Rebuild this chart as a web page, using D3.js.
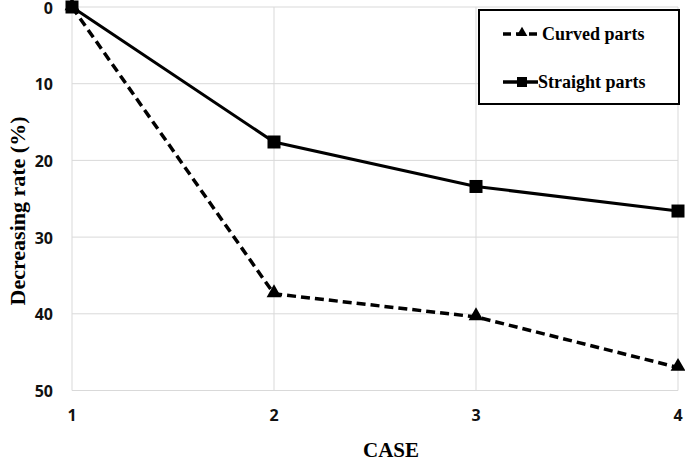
<!DOCTYPE html>
<html><head><meta charset="utf-8">
<script src="https://cdn.jsdelivr.net/npm/d3@7"></script>
<style>body{margin:0;background:#fff}</style>
</head><body>
<svg id="c" width="685" height="460"></svg>
<script>
const categories = [1, 2, 3, 4];
const curved = [0, 37.4, 40.4, 47.0];
const straight = [0, 17.6, 23.4, 26.6];
const yTicks = [0, 10, 20, 30, 40, 50];

const svg = d3.select("#c");
const m = {l: 72, r: 678, t: 7, b: 390.5};
const x = d3.scalePoint().domain(categories).range([m.l, m.r]);
const y = d3.scaleLinear().domain([0, 50]).range([m.t, m.b]);

// grid
svg.append("g").selectAll("line").data(yTicks).join("line")
  .attr("x1", m.l).attr("x2", m.r).attr("y1", d => y(d)).attr("y2", d => y(d))
  .attr("stroke", "#d9d9d9").attr("stroke-width", 1);
svg.append("g").selectAll("line").data(categories).join("line")
  .attr("x1", d => x(d)).attr("x2", d => x(d)).attr("y1", m.t).attr("y2", m.b)
  .attr("stroke", "#d9d9d9").attr("stroke-width", 1);

// y tick labels
svg.append("g").selectAll("text").data(yTicks).join("text")
  .attr("x", 53).attr("y", d => y(d) + 1).attr("dy", "0.35em")
  .attr("text-anchor", "end").attr("font-family", "Open Sans, Liberation Sans, sans-serif")
  .attr("font-weight", "bold").attr("font-size", 16).attr("fill", "#111")
  .text(d => d);
// x tick labels
svg.append("g").selectAll("text").data(categories).join("text")
  .attr("x", d => x(d)).attr("y", 415).attr("dy", "0.35em")
  .attr("text-anchor", "middle").attr("font-family", "Open Sans, Liberation Sans, sans-serif")
  .attr("font-weight", "bold").attr("font-size", 16).attr("fill", "#111")
  .text(d => d);

// axis titles
svg.append("text").attr("transform", "translate(17,211) rotate(-90)")
  .attr("text-anchor", "middle").attr("dy", "0.35em")
  .attr("font-family", "Liberation Serif, Times New Roman, serif").attr("font-weight", "bold")
  .attr("font-size", 22).text("Decreasing rate (%)");
svg.append("text").attr("x", 391).attr("y", 457).attr("text-anchor", "middle")
  .attr("font-family", "Liberation Serif, Times New Roman, serif").attr("font-weight", "bold")
  .attr("font-size", 21).text("CASE");

const line = d3.line().x((d, i) => x(categories[i])).y(d => y(d));

svg.append("path").datum(curved).attr("d", line).attr("fill", "none")
  .attr("stroke", "#000").attr("stroke-width", 3.5).attr("stroke-dasharray", "9,5");
svg.append("path").datum(straight).attr("d", line).attr("fill", "none")
  .attr("stroke", "#000").attr("stroke-width", 3);

const tri = d3.symbol().type(d3.symbolTriangle).size(95);
svg.append("g").selectAll("path").data(curved).join("path")
  .attr("d", tri).attr("transform", (d, i) => `translate(${x(categories[i])},${y(d) - 1})`)
  .attr("fill", "#000");
svg.append("g").selectAll("rect").data(straight).join("rect")
  .attr("x", (d, i) => x(categories[i]) - 6.5).attr("y", d => y(d) - 6.5)
  .attr("width", 13).attr("height", 13).attr("fill", "#000");

// legend
const lg = svg.append("g");
lg.append("rect").attr("x", 479).attr("y", 10).attr("width", 200).attr("height", 94)
  .attr("fill", "#fff").attr("stroke", "#000").attr("stroke-width", 2);
const legendItems = [
  {label: "Curved parts", dash: "8,5", sym: "tri", cy: 34, x2: 537, tx: 542},
  {label: "Straight parts", dash: null, sym: "sq", cy: 82, x2: 538, tx: 538}
];
legendItems.forEach(it => {
  lg.append("line").attr("x1", 503).attr("x2", it.x2).attr("y1", it.cy).attr("y2", it.cy)
    .attr("stroke", "#000").attr("stroke-width", 3.5)
    .attr("stroke-dasharray", it.dash);
  if (it.sym === "tri") {
    lg.append("path").attr("d", d3.symbol().type(d3.symbolTriangle).size(50))
      .attr("transform", `translate(522,${it.cy - 1})`).attr("fill", "#000");
  } else {
    lg.append("rect").attr("x", 517).attr("y", it.cy - 5).attr("width", 10).attr("height", 10)
      .attr("fill", "#000");
  }
  lg.append("text").attr("x", it.tx).attr("y", it.cy).attr("dy", "0.35em")
    .attr("font-family", "Liberation Serif, Times New Roman, serif").attr("font-weight", "bold")
    .attr("font-size", 18).text(it.label);
});
</script>
</body></html>
